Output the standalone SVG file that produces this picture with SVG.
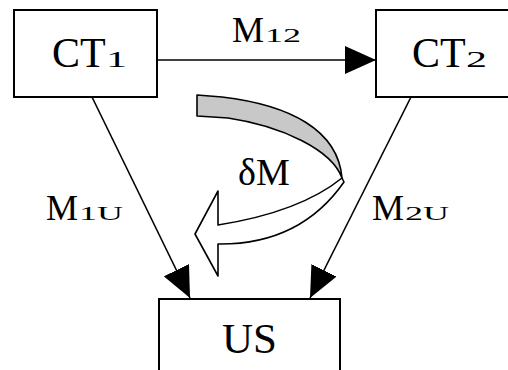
<svg xmlns="http://www.w3.org/2000/svg" width="508" height="370" viewBox="0 0 508 370">
  <style>
    .box { fill: #ffffff; stroke: #000000; stroke-width: 2; }
    .txt { font-family: "Liberation Serif", "Times New Roman", serif; fill: #000000; }
    .conn { stroke: #000000; stroke-width: 1.6; fill: none; }
    .outline { stroke: #000000; stroke-width: 1.6; stroke-linejoin: round; }
  </style>
  <defs>
    <marker id="head" markerUnits="userSpaceOnUse" viewBox="0 0 31 28" refX="31" refY="14" markerWidth="31" markerHeight="28" orient="auto">
      <path d="M0,0 L31,14 L0,28 Z" fill="#000000"/>
    </marker>
  </defs>
  <rect width="508" height="370" fill="#ffffff"/>

  <g id="connectors">
    <line class="conn" x1="157" y1="60" x2="376" y2="60" marker-end="url(#head)"/>
    <line class="conn" x1="92" y1="97" x2="190" y2="298" marker-end="url(#head)"/>
    <line class="conn" x1="411" y1="97" x2="310" y2="298" marker-end="url(#head)"/>
    <text class="txt" x="232" y="42" font-size="36">M</text>
    <text class="txt" font-size="36" transform="translate(265,42) scale(1,0.55)">12</text>
    <text class="txt" x="46" y="220" font-size="36">M</text>
    <text class="txt" font-size="36" transform="translate(79,220) scale(1,0.55)">1U</text>
    <text class="txt" x="372" y="220" font-size="36">M</text>
    <text class="txt" font-size="36" transform="translate(405,220) scale(1,0.55)">2U</text>
  </g>

  <g id="deltaM">
    <path class="outline" fill="#c8c8c8" d="M197,95 L222,97 C290,105 338,130 342,178 C332,150 282,126 228,118 L197,116 Z"/>
    <path class="outline" fill="#ffffff" d="M342,178 Q300,212 218,225 L218,191 L195,234 L218,276 L218,244 Q300,245 344,182 Z"/>
    <text class="txt" x="238" y="185" font-size="38">δM</text>
  </g>

  <g id="CT1">
    <rect class="box" x="14" y="10" width="143" height="87"/>
    <text class="txt" x="52" y="67" font-size="42">CT</text>
    <text class="txt" font-size="42" transform="translate(106,67) scale(1,0.53)">1</text>
  </g>

  <g id="CT2">
    <rect class="box" x="376" y="10" width="140" height="87"/>
    <text class="txt" x="412" y="67" font-size="42">CT</text>
    <text class="txt" font-size="42" transform="translate(466,67) scale(1,0.53)">2</text>
  </g>

  <g id="US">
    <rect class="box" x="159" y="299" width="181" height="80"/>
    <text class="txt" x="222" y="353" font-size="43">US</text>
  </g>
</svg>
